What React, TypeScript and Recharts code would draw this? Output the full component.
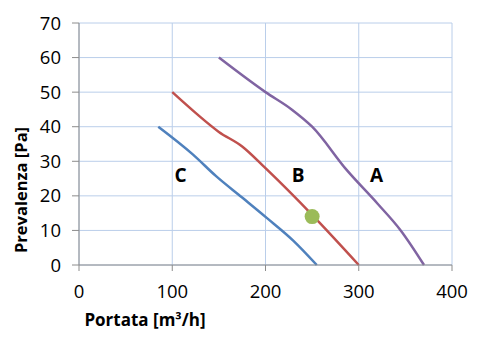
import {
  ComposedChart,
  Line,
  Scatter,
  XAxis,
  YAxis,
  CartesianGrid,
  ReferenceDot,
} from 'recharts';

// Portata [m³/h] vs Prevalenza [Pa]
const curveA = [
  { x: 150, y: 60 },
  { x: 200, y: 50 },
  { x: 228, y: 45 },
  { x: 250, y: 40 },
  { x: 287, y: 27.5 },
  { x: 320, y: 17.8 },
  { x: 345, y: 10 },
  { x: 370, y: 0 },
];

const curveB = [
  { x: 100, y: 50 },
  { x: 125, y: 44 },
  { x: 150, y: 38.5 },
  { x: 175, y: 34.3 },
  { x: 200, y: 28 },
  { x: 250, y: 14.5 },
  { x: 300, y: 0 },
];

const curveC = [
  { x: 85, y: 40 },
  { x: 122, y: 32 },
  { x: 147, y: 25.7 },
  { x: 175, y: 19.5 },
  { x: 201, y: 13.7 },
  { x: 230, y: 7 },
  { x: 255, y: 0 },
];

const operatingPoint = [{ x: 250, y: 14 }];

const curveLabels = [
  { name: 'C', x: 109, y: 26 },
  { name: 'B', x: 235, y: 26 },
  { name: 'A', x: 319, y: 26 },
];

const xTicks = [0, 100, 200, 300, 400];
const yTicks = [0, 10, 20, 30, 40, 50, 60, 70];

const FONT = '"Open Sans", "Noto Sans", sans-serif';

export default function App() {
  return (
    <div style={{ position: 'absolute', left: 0, top: 0, background: '#fff' }}>
      <ComposedChart
        width={483}
        height={343}
        margin={{ top: 23, right: 31, bottom: 0, left: 0 }}
      >
        <CartesianGrid stroke="#BACEEA" strokeWidth={1} />
        <XAxis
          type="number"
          dataKey="x"
          domain={[0, 400]}
          ticks={xTicks}
          height={78}
          stroke="#8C8C8C"
          tickSize={6}
          tickMargin={14}
          tick={{ fill: '#000', fontSize: 18.5, fontFamily: FONT }}
          label={() => (
            <text
              x={145}
              y={326}
              textAnchor="middle"
              fontFamily={FONT}
              fontSize={17}
              fontWeight="bold"
              fill="#000"
            >
              Portata [m³/h]
            </text>
          )}
        />
        <YAxis
          type="number"
          dataKey="y"
          domain={[0, 70]}
          ticks={yTicks}
          width={79}
          stroke="#8C8C8C"
          tickSize={7}
          tickMargin={11}
          tick={{ fill: '#000', fontSize: 18.5, fontFamily: FONT }}
          label={() => (
            <text
              x={27}
              y={190}
              transform="rotate(-90 27 190)"
              textAnchor="middle"
              fontFamily={FONT}
              fontSize={16.5}
              fontWeight="bold"
              fill="#000"
            >
              Prevalenza [Pa]
            </text>
          )}
        />
        <Line
          data={curveA}
          dataKey="y"
          type="monotone"
          stroke="#8064A2"
          strokeWidth={2.5}
          dot={false}
          isAnimationActive={false}
        />
        <Line
          data={curveB}
          dataKey="y"
          type="monotone"
          stroke="#C0504D"
          strokeWidth={2.5}
          dot={false}
          isAnimationActive={false}
        />
        <Line
          data={curveC}
          dataKey="y"
          type="monotone"
          stroke="#4F81BD"
          strokeWidth={2.5}
          dot={false}
          isAnimationActive={false}
        />
        <Scatter
          data={operatingPoint}
          dataKey="y"
          fill="#9BBB59"
          shape={(p: any) => <circle cx={p.cx} cy={p.cy} r={7.5} fill="#9BBB59" />}
          isAnimationActive={false}
        />
        {curveLabels.map((l) => (
          <ReferenceDot
            key={l.name}
            x={l.x}
            y={l.y}
            r={0}
            stroke="none"
            label={{
              value: l.name,
              position: 'center',
              fontFamily: FONT,
              fontSize: 19,
              fontWeight: 'bold',
              fill: '#000',
            }}
          />
        ))}
      </ComposedChart>
    </div>
  );
}
